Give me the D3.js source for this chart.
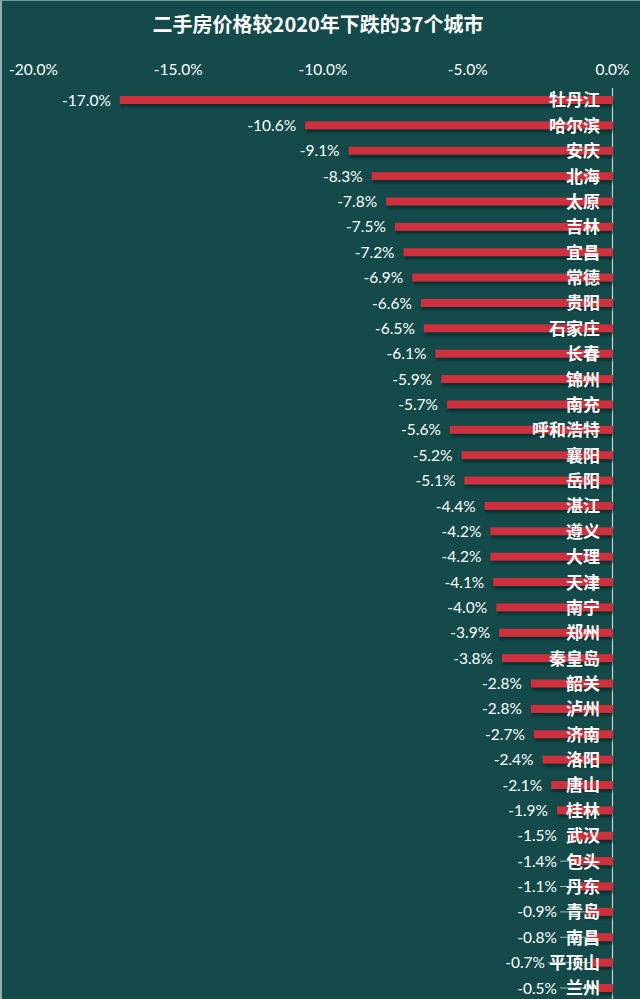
<!DOCTYPE html>
<html>
<head>
<meta charset="utf-8">
<script src="https://cdn.jsdelivr.net/npm/d3@7"></script>
<style>
html,body{margin:0;padding:0;background:#144a4a;}
svg{display:block;}
</style>
</head>
<body>
<script>
const title = "二手房价格较2020年下跌的37个城市";
const cities = ["牡丹江","哈尔滨","安庆","北海","太原","吉林","宜昌","常德","贵阳","石家庄","长春","锦州","南充","呼和浩特","襄阳","岳阳","湛江","遵义","大理","天津","南宁","郑州","秦皇岛","韶关","泸州","济南","洛阳","唐山","桂林","武汉","包头","丹东","青岛","南昌","平顶山","兰州"];
const values = [-17.0,-10.6,-9.1,-8.3,-7.8,-7.5,-7.2,-6.9,-6.6,-6.5,-6.1,-5.9,-5.7,-5.6,-5.2,-5.1,-4.4,-4.2,-4.2,-4.1,-4.0,-3.9,-3.8,-2.8,-2.8,-2.7,-2.4,-2.1,-1.9,-1.5,-1.4,-1.1,-0.9,-0.8,-0.7,-0.5];
const tickValues = [-20,-15,-10,-5,0];

const W = 640, H = 999;
const data = cities.map((c,i)=>({city:c, value:values[i]}));

const svg = d3.select("body").append("svg").attr("width",W).attr("height",H);
svg.append("rect").attr("x",0).attr("y",0).attr("width",W).attr("height",H).attr("fill","#144a4a");
svg.append("line").attr("x1",1).attr("x2",1).attr("y1",0).attr("y2",H).attr("stroke","#8fb0ae").attr("stroke-width",2);
svg.append("line").attr("x1",0).attr("x2",W).attr("y1",0.5).attr("y2",0.5).attr("stroke","#6f9896").attr("stroke-width",1);

const x = d3.scaleLinear().domain([-20,0]).range([33,612]);
const y = d3.scalePoint().domain(cities).range([100,988]);

const defs = svg.append("defs");
const f = defs.append("filter").attr("id","sh").attr("x","-5%").attr("y","-50%").attr("width","110%").attr("height","250%");
f.append("feGaussianBlur").attr("stdDeviation",1);

svg.append("text").attr("x",318).attr("y",32).attr("text-anchor","middle")
  .attr("fill","#fff").attr("font-family","'Noto Sans CJK SC','Noto Sans',sans-serif")
  .attr("font-weight","bold").attr("font-size",20).text(title);

const ax = svg.append("g").attr("transform","translate(0,75)")
  .call(d3.axisTop(x).tickValues(tickValues).tickSize(0).tickPadding(0).tickFormat(d=>d.toFixed(1)+"%"));
ax.select(".domain").remove();
ax.selectAll("text").attr("fill","#fff").attr("font-family","Lato,'Open Sans',sans-serif").attr("font-size",15.5);

// zero axis line
svg.append("line").attr("x1",612.5).attr("x2",612.5).attr("y1",88).attr("y2",H)
  .attr("stroke","#c9d3d2").attr("stroke-width",1.2);

const bh = 8;
// shadows
svg.append("g").selectAll("rect").data(data).join("rect")
  .attr("x",d=>x(d.value)+1).attr("y",d=>y(d.city)-bh/2+3)
  .attr("width",d=>x(0)-x(d.value)).attr("height",bh)
  .attr("fill","#062a2b").attr("opacity",0.75).attr("filter","url(#sh)");
// bars
svg.append("g").selectAll("rect").data(data).join("rect")
  .attr("x",d=>x(d.value)).attr("y",d=>y(d.city)-bh/2)
  .attr("width",d=>x(0)-x(d.value)+1).attr("height",bh)
  .attr("fill","#cf303d");

// city labels
const cityG = svg.append("g");
const cityT = cityG.selectAll("text").data(data).join("text")
  .attr("x",600).attr("y",d=>y(d.city)).attr("dy","0.38em")
  .attr("text-anchor","end").attr("fill","#fff")
  .attr("font-family","'Noto Sans CJK SC',sans-serif").attr("font-weight","bold").attr("font-size",17)
  .text(d=>d.city);
cityT.each(function(d){ d.cityLeft = 600 - this.getComputedTextLength(); });

const labelRight = d=>Math.min(x(d.value)-9, 557, d.cityLeft-4);
// leader lines
svg.insert("g", "g").selectAll("line");
const leaders = svg.append("g").selectAll("line").data(data.filter(d=>x(d.value)-9>560)).join("line")
  .attr("x1",d=>labelRight(d)+3).attr("x2",d=>x(d.value))
  .attr("y1",d=>y(d.city)).attr("y2",d=>y(d.city))
  .attr("stroke","#a9b7b6").attr("stroke-width",1);
cityG.raise();

// value labels
svg.append("g").selectAll("text").data(data).join("text")
  .attr("x",d=>labelRight(d)).attr("y",d=>y(d.city)).attr("dy","0.36em")
  .attr("text-anchor","end").attr("fill","#fff")
  .attr("font-family","Lato,'Open Sans',sans-serif").attr("font-size",15.5)
  .text(d=>d.value.toFixed(1)+"%");
</script>
</body>
</html>
